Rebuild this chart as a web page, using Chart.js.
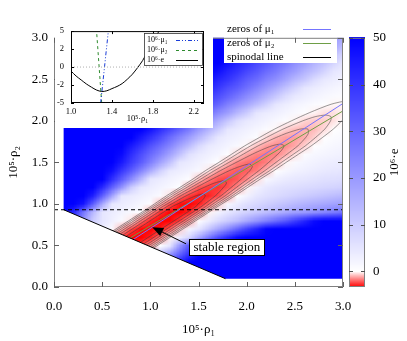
<!DOCTYPE html>
<html><head><meta charset="utf-8">
<script src="https://cdn.jsdelivr.net/npm/chart.js@4.4.1/dist/chart.umd.min.js"></script>
<style>
html,body{margin:0;padding:0;background:#fff;overflow:hidden;}
#wrap{position:relative;width:407px;height:341px;}
#main{position:absolute;left:0;top:0;}
#inset{position:absolute;left:55px;top:19px;}
</style></head><body>
<div id="wrap"><canvas id="main" width="407" height="341"></canvas><canvas id="inset" width="158" height="109"></canvas></div>
<script>
// ---------- axis ticks ----------
const xTicks = [0, 0.5, 1, 1.5, 2, 2.5, 3];
const yTicks = [0, 0.5, 1, 1.5, 2, 2.5, 3];
const cbTicks = [0, 10, 20, 30, 40, 50];
const cbMin = -3.33, cbMax = 50;

// ---------- heat map grid (10^6 e), rows = rho2, cols = rho1 ----------
const gridX = [0.1,0.2,0.3,0.4,0.5,0.6,0.7,0.8,0.9,1.0,1.1,1.2,1.3,1.4,1.5,1.6,1.7,1.8,1.9,2.0,2.1,2.2,2.3,2.4,2.5,2.6,2.7,2.8,2.9,3.0];
const gridY = [0.1,0.2,0.3,0.4,0.5,0.6,0.7,0.8,0.9,1.0,1.1,1.2,1.3,1.4,1.5,1.6,1.7,1.8,1.9,2.0,2.1,2.2,2.3,2.4,2.5,2.6,2.7,2.8,2.9,3.0];
const eGrid = [
[60,60,60,60,60,60,60,60,60,60,60,60,60,60,60,60,60,60,60,60,60,60,60,60,60,60,60,60,60,60],
[60,60,60,60,60,60,60,60,60,60,60,60,60,60,60,60,60,60,60,60,60,60,60,60,60,60,60,60,60,60],
[15,15,15,15,15,15,15,15,18,22,27,35,42,52,60,60,60,60,60,60,60,60,60,60,60,60,60,60,60,60],
[0,0,0,0,0,0,0,2,5,8,12,20,30,40,50,56,60,60,60,60,60,60,60,60,60,60,60,60,60,60],
[10,5,2,-0.2,-1.9,-2.9,-3.4,-3.3,-2.6,-1.4,0.4,5,20,33,47,60,60,60,60,60,60,60,60,60,60,60,60,60,60,60],
[12,7,4,2,0.2,-1.5,-2.7,-3.3,-3.4,-2.9,-1.8,-0.2,3.5,8,17,26,35,42,48,54,60,60,60,60,60,60,60,60,60,60],
[35,25,15,8,3.7,0.9,-1.05,-2.4,-3.2,-3.4,-3.1,-2.2,-0.7,1.9,5,11,17,23,30,37,43,49,54,58,60,60,60,60,60,60],
[55,40,22,10,5,3,1.2,-0.35,-1.9,-2.9,-3.4,-3.3,-2.6,-1.4,0.6,3.5,7,10,13,17,21,25,29,33,38,43,48,52,56,60],
[58,42,27,14,5,3.5,2.3,1.2,0.1,-1.5,-2.7,-3.3,-3.4,-2.9,-1.8,-0.2,2.5,5,7,9,11,13,15,17,19,20,22,24,26,28],
[60,60,46,32,17,4.8,3.8,2.7,1.6,0.5,-1.0,-2.3,-3.1,-3.3,-3.0,-2.1,-0.7,1.5,4,6,7.5,9,10.5,12,13.5,15,16,17,18,19],
[60,60,60,44,31,18,5,4,3,2,1,-0.4,-1.8,-2.6,-3.0,-2.9,-2.4,-1.3,0.2,2.5,5,6,7,8,9,10,11,12,13,14],
[60,60,60,50,42,31,21,10,4.7,3.5,2.4,1.3,0.2,-1.2,-2.2,-2.6,-2.7,-2.3,-1.5,-0.2,2.5,4.5,5.5,6,6.5,7,7.5,8,8.5,9],
[60,60,60,60,50,41,32,23,14,5,3.8,2.6,1.5,0.5,-0.8,-1.7,-2.3,-2.45,-2.2,-1.6,-0.5,1.5,3,4,4.5,5,5.5,6,6.3,6.6],
[60,60,60,60,60,47,39,32,24,16,9,4.3,3.3,2.3,1.3,-0.3,-1.3,-1.9,-2.2,-2.1,-1.7,-0.9,0.2,1.5,2.5,3.2,3.8,4.3,4.7,5],
[60,60,60,60,60,51,45,38,32,25,18,12,5,4,2.8,1.6,0.2,-0.9,-1.6,-1.9,-2.0,-1.7,-1.1,-0.15,1.2,2,2.6,3.1,3.5,3.8],
[60,60,60,60,60,60,48,41,35,29,24,18,12,6,4.1,3.0,1.9,0.6,-0.5,-1.2,-1.6,-1.75,-1.6,-1.1,-0.4,0.8,1.5,2.0,2.4,2.7],
[60,60,60,60,60,60,50,45,40,34,29,24,18,13,7.5,4.4,3.3,2.2,1.1,-0.1,-0.8,-1.3,-1.5,-1.5,-1.15,-0.6,0.25,1.0,1.5,1.9],
[60,60,60,60,60,60,60,50,45,40,35,29,24,19,14,9,4.7,3.4,2.5,1.6,0.5,-0.5,-1.0,-1.25,-1.25,-1.05,-0.6,0.1,0.7,1.2],
[60,60,60,60,60,60,60,60,50,46,41,36,31,26,20,15,10,5,3.7,2.7,1.7,0.8,-0.1,-0.6,-0.9,-1.0,-0.9,-0.5,0.05,0.6],
[60,60,60,60,60,60,60,60,60,50,45,40,35,31,26,21,16,11,6.5,4.3,3.3,2.3,1.4,0.5,-0.15,-0.55,-0.7,-0.65,-0.4,0.05],
[60,60,60,60,60,60,60,60,60,60,50,46,41,37,32,28,23,19,14,10,5,3.8,2.9,2.0,1.2,0.4,-0.15,-0.4,-0.4,-0.2],
[60,60,60,60,60,60,60,60,60,60,60,50,46,42,38,34,30,25,21,17,13,9,5,3.5,2.4,1.5,0.8,0.3,-0.1,-0.13],
[60,60,60,60,60,60,60,60,60,60,60,60,50,46,42,38,35,31,27,23,19,15,11,7,4.5,3.3,2.3,1.5,0.9,0.5],
[60,60,60,60,60,60,60,60,60,60,60,60,60,50,46,43,39,35,32,28,24,20,16,12,8.5,5,3.8,2.8,2.0,1.4],
[60,60,60,60,60,60,60,60,60,60,60,60,60,60,50,47,43,40,36,32,29,25,22,18,14,11,7,4.6,3.5,2.6],
[60,60,60,60,60,60,60,60,60,60,60,60,60,60,60,50,47,43,40,36,33,29,26,22,19,15,12,8.5,5,4],
[60,60,60,60,60,60,60,60,60,60,60,60,60,60,60,60,50,47,43,40,36,33,29,26,22,19,15,12,8.5,5],
[60,60,60,60,60,60,60,60,60,60,60,60,60,60,60,60,60,50,47,43,40,36,33,29,26,22,19,15,12,8.5],
[60,60,60,60,60,60,60,60,60,60,60,60,60,60,60,60,60,60,60,48,45,41,38,34,31,27,24,20,17,13],
[60,60,60,60,60,60,60,60,60,60,60,60,60,60,60,60,60,60,60,60,48,45,41,38,34,31,27,24,20,17]
];

// ---------- contour lines of 10^6 e (levels -3 ... 0) ----------
const contourM30 = [[0.47,0.4],[0.87,0.7],[1.23,0.97],[1.285,1.0],[1.375,1.05],[1.48,1.1],[1.55,1.12],[1.57,1.1],[1.545,1.05],[1.495,1.0],[1.475,0.97],[1.115,0.7],[0.715,0.4]];
const contourM25 = [[0.414,0.4],[0.814,0.7],[1.174,0.97],[1.221,1.0],[1.375,1.1],[1.56,1.2],[1.662,1.25],[1.77,1.28],[1.79,1.25],[1.76,1.2],[1.677,1.1],[1.565,1.0],[1.532,0.97],[1.172,0.7],[0.772,0.4]];
const contourM20 = [[0.369,0.4],[0.769,0.7],[1.129,0.97],[1.174,1.0],[1.317,1.1],[1.479,1.2],[1.643,1.3],[1.819,1.4],[1.928,1.45],[2.03,1.48],[2.058,1.45],[2.033,1.4],[1.943,1.3],[1.841,1.2],[1.735,1.1],[1.612,1.0],[1.577,0.97],[1.217,0.7],[0.817,0.4]];
const contourM15 = [[0.333,0.4],[0.733,0.7],[1.093,0.97],[1.135,1.0],[1.272,1.1],[1.425,1.2],[1.575,1.3],[1.726,1.4],[1.892,1.5],[2.062,1.6],[2.155,1.65],[2.264,1.7],[2.35,1.72],[2.388,1.7],[2.365,1.65],[2.324,1.6],[2.228,1.5],[2.126,1.4],[2.011,1.3],[1.895,1.2],[1.78,1.1],[1.651,1.0],[1.613,0.97],[1.253,0.7],[0.853,0.4]];
const contourM10 = [[0.3,0.4],[0.7,0.7],[1.06,0.97],[1.101,1.0],[1.234,1.1],[1.38,1.2],[1.524,1.3],[1.664,1.4],[1.816,1.5],[1.966,1.6],[2.12,1.7],[2.307,1.8],[2.412,1.85],[2.55,1.9],[2.6,1.905],[2.636,1.9],[2.64,1.85],[2.613,1.8],[2.532,1.7],[2.42,1.6],[2.304,1.5],[2.188,1.4],[2.062,1.3],[1.94,1.2],[1.818,1.1],[1.685,1.0],[1.646,0.97],[1.286,0.7],[0.886,0.4]];
const contourM05 = [[0.271,0.4],[0.671,0.7],[1.031,0.97],[1.071,1.0],[1.2,1.1],[1.342,1.2],[1.481,1.3],[1.614,1.4],[1.759,1.5],[1.899,1.6],[2.042,1.7],[2.205,1.8],[2.376,1.9],[2.581,2.0],[2.71,2.05],[2.82,2.07],[2.876,2.05],[2.871,2.0],[2.81,1.9],[2.715,1.8],[2.61,1.7],[2.487,1.6],[2.361,1.5],[2.238,1.4],[2.105,1.3],[1.978,1.2],[1.852,1.1],[1.715,1.0],[1.675,0.97],[1.315,0.7],[0.915,0.4]];
const contour00 = [[0.245,0.4],[0.645,0.7],[1.005,0.97],[1.043,1.0],[1.17,1.1],[1.308,1.2],[1.443,1.3],[1.571,1.4],[1.711,1.5],[1.846,1.6],[1.981,1.7],[2.133,1.8],[2.288,1.9],[2.464,2.0],[2.655,2.1],[2.876,2.2],[3.05,2.24],[3.11,2.2],[3.065,2.1],[2.988,2.0],[2.898,1.9],[2.787,1.8],[2.671,1.7],[2.54,1.6],[2.409,1.5],[2.281,1.4],[2.143,1.3],[2.012,1.2],[1.882,1.1],[1.743,1.0],[1.701,0.97],[1.341,0.7],[0.941,0.4]];
const contours = [contourM30, contourM25, contourM20, contourM15, contourM10, contourM05, contour00];

// ---------- lines ----------
const mu1Zero = [[0.82,0.57],[3.0,2.21]];
const mu2Zero = [[0.79,0.59],[3.0,2.12]];
const spinodal = [[0.1,0.93],[1.78,0.1]];
const dashedLevel = [[0,0.93],[3,0.93]];
const dataRegion = [[0.1,3.0],[3.0,3.0],[3.0,0.1],[1.78,0.1],[0.1,0.93]];
const legendLabels = ['zeros of \u03bc\u2081','zeros of \u03bc\u2082','spinodal line'];
const annotText = 'stable region';
const annotPos = [1.795, 0.485];
const arrowTail = [1.37, 0.52];
const arrowTip = [1.02, 0.72];

// ---------- inset data ----------
const insetRho = [1.0,1.05,1.1,1.15,1.2,1.25,1.3,1.35,1.4,1.45,1.5,1.55,1.6,1.65,1.7,1.75,1.8,1.86];
const insetE   = [-0.55,-1.25,-1.8,-2.35,-2.8,-3.2,-3.4,-3.3,-3.0,-2.7,-2.3,-1.7,-1.0,-0.1,0.9,2.2,3.5,5.0];
const insetMu1 = [[1.29,-5],[1.365,5]];
const insetMu2 = [[1.30,-5],[1.25,5]];
const insetXTicks = [1.0,1.4,1.8,2.2];
const insetYTicks = [-5,-2.5,0,2.5,5];
const insetYTickLabels = ['-5','-2','0','2','5'];
const insetLegendLabels = ['10\u2076\u00b7\u03bc\u2081','10\u2076\u00b7\u03bc\u2082','10\u2076\u00b7e'];

const SERIF = '"Liberation Serif","DejaVu Serif",serif';
Chart.defaults.font.family = SERIF;

function colorOf(v){
  if (v < 0){ const t = Math.min(1, -v / (-cbMin)); const g = Math.round(255*(1-t)); return [255,g,g]; }
  const t = Math.min(1, v / cbMax); const g = Math.round(255*(1-t)); return [g,g,255];
}
const pts = a => a.map(p => ({x:p[0], y:p[1]}));

function regionPath(ctx, xs, ys){
  ctx.beginPath();
  dataRegion.forEach((p,k)=>{ const px=xs.getPixelForValue(p[0]), py=ys.getPixelForValue(p[1]); if(k) ctx.lineTo(px,py); else ctx.moveTo(px,py); });
  ctx.closePath();
}

const heatPlugin = {
  id: 'heat',
  beforeDatasetsDraw(chart){
    const {ctx} = chart; const xs = chart.scales.x, ys = chart.scales.y;
    const nx = gridX.length, ny = gridY.length;
    const off = document.createElement('canvas'); off.width = nx; off.height = ny;
    const octx = off.getContext('2d');
    const img = octx.createImageData(nx, ny);
    for (let j=0;j<ny;j++){
      const row = eGrid[ny-1-j];
      for (let i=0;i<nx;i++){
        const c = colorOf(row[i]); const k = (j*nx+i)*4;
        img.data[k]=c[0]; img.data[k+1]=c[1]; img.data[k+2]=c[2]; img.data[k+3]=255;
      }
    }
    octx.putImageData(img,0,0);
    const hx = (gridX[1]-gridX[0])/2, hy = (gridY[1]-gridY[0])/2;
    const l = xs.getPixelForValue(gridX[0]-hx), r = xs.getPixelForValue(gridX[nx-1]+hx);
    const t = ys.getPixelForValue(gridY[ny-1]+hy), b = ys.getPixelForValue(gridY[0]-hy);
    ctx.save();
    regionPath(ctx, xs, ys); ctx.clip();
    ctx.imageSmoothingEnabled = true;
    ctx.drawImage(off, l, t, r-l, b-t);
    ctx.restore();
  },
  beforeDatasetDraw(chart, args){
    const ds = chart.data.datasets[args.index];
    if (ds.clipSpin){ const ctx=chart.ctx; ctx.save(); regionPath(ctx, chart.scales.x, chart.scales.y); ctx.clip(); }
  },
  afterDatasetDraw(chart, args){
    const ds = chart.data.datasets[args.index];
    if (ds.clipSpin){ chart.ctx.restore(); }
  },
  afterDatasetsDraw(chart){
    const {ctx, chartArea:ca} = chart; const xs = chart.scales.x, ys = chart.scales.y, cb = chart.scales.cb;
    // arrow
    const x1 = xs.getPixelForValue(arrowTail[0]), y1 = ys.getPixelForValue(arrowTail[1]);
    const x2 = xs.getPixelForValue(arrowTip[0]), y2 = ys.getPixelForValue(arrowTip[1]);
    const ang = Math.atan2(y2-y1, x2-x1), L = 11, W = 4.5;
    const bx = x2 - L*Math.cos(ang), by = y2 - L*Math.sin(ang);
    ctx.save();
    ctx.strokeStyle='#000'; ctx.lineWidth=1;
    ctx.beginPath(); ctx.moveTo(x1,y1); ctx.lineTo(bx,by); ctx.stroke();
    ctx.beginPath(); ctx.moveTo(x2,y2); ctx.lineTo(bx + W*Math.sin(ang), by - W*Math.cos(ang)); ctx.lineTo(bx - W*Math.sin(ang), by + W*Math.cos(ang)); ctx.closePath();
    ctx.fillStyle='#000'; ctx.fill();
    // annotation box
    ctx.font = '13px ' + SERIF;
    const cx = xs.getPixelForValue(annotPos[0]), cy = ys.getPixelForValue(annotPos[1]);
    const tw = ctx.measureText(annotText).width;
    const bw = Math.round(tw + 8), bh = 16;
    const bl = Math.round(cx - bw/2) + 0.5, bt = Math.round(cy - bh/2) + 0.5;
    ctx.fillStyle='#fff'; ctx.fillRect(bl, bt, bw, bh);
    ctx.strokeStyle='#000'; ctx.lineWidth=1; ctx.strokeRect(bl, bt, bw, bh);
    ctx.fillStyle='#000'; ctx.textAlign='center'; ctx.textBaseline='middle';
    ctx.fillText(annotText, cx, cy+1);
    // legend
    ctx.fillStyle='#fff'; ctx.fillRect(224, 19, 113, 44);
    ctx.font = '11px ' + SERIF; ctx.textAlign='left'; ctx.textBaseline='middle';
    const legColors = ['#7474ff','#6e9e46','#000'];
    legendLabels.forEach((lab,k)=>{
      const yy = 29 + k*14;
      ctx.fillStyle='#000'; ctx.fillText(lab, 227, yy);
      ctx.strokeStyle = legColors[k]; ctx.lineWidth = 1;
      ctx.beginPath(); ctx.moveTo(303, yy+0.5); ctx.lineTo(331, yy+0.5); ctx.stroke();
    });
    // frame
    ctx.strokeStyle='#808080'; ctx.lineWidth=1;
    ctx.strokeRect(ca.left+0.5, ca.top+0.5, ca.right-ca.left-1, ca.bottom-ca.top-1);
    // ticks (inward)
    ctx.strokeStyle='#606060';
    ctx.beginPath();
    xTicks.forEach(v=>{ const px = Math.round(xs.getPixelForValue(v))+0.5; ctx.moveTo(px, ca.bottom); ctx.lineTo(px, ca.bottom-5); ctx.moveTo(px, ca.top); ctx.lineTo(px, ca.top+5); });
    yTicks.forEach(v=>{ const py = Math.round(ys.getPixelForValue(v))+0.5; ctx.moveTo(ca.left, py); ctx.lineTo(ca.left+5, py); ctx.moveTo(ca.right, py); ctx.lineTo(ca.right-5, py); });
    ctx.stroke();
    // colour bar
    const cbL = 349, cbR = 365;
    for (let py = Math.floor(ca.top); py < ca.bottom; py++){
      const v = cb.getValueForPixel(py+0.5); const c = colorOf(v);
      ctx.fillStyle = 'rgb('+c[0]+','+c[1]+','+c[2]+')'; ctx.fillRect(cbL, py, cbR-cbL, 1);
    }
    ctx.strokeStyle='#808080'; ctx.strokeRect(cbL+0.5, ca.top+0.5, cbR-cbL-1, ca.bottom-ca.top-1);
    ctx.strokeStyle='#505050'; ctx.beginPath();
    cbTicks.forEach(v=>{ const py = Math.round(cb.getPixelForValue(v))+0.5; ctx.moveTo(cbL, py); ctx.lineTo(cbL+4, py); ctx.moveTo(cbR, py); ctx.lineTo(cbR-4, py); });
    ctx.stroke();
    // axis titles
    ctx.fillStyle='#000'; ctx.font='13px ' + SERIF; ctx.textAlign='center'; ctx.textBaseline='middle';
    ctx.fillText('10\u2075\u00b7\u03c1\u2081', (ca.left+ca.right)/2, 330);
    ctx.save(); ctx.translate(14, (ca.top+ca.bottom)/2); ctx.rotate(-Math.PI/2); ctx.fillText('10\u2075\u00b7\u03c1\u2082', 0, 0); ctx.restore();
    ctx.save(); ctx.translate(395, (ca.top+ca.bottom)/2); ctx.rotate(-Math.PI/2); ctx.fillText('10\u2076\u00b7e', 0, 0); ctx.restore();
    ctx.restore();
  }
};

const mainDatasets = [
  {data: pts(spinodal), showLine:true, borderColor:'#000', borderWidth:1, pointRadius:0},
  {data: pts(dashedLevel), showLine:true, borderColor:'#000', borderWidth:1, borderDash:[4,3], pointRadius:0},
  {data: pts(mu1Zero), showLine:true, borderColor:'#7474ff', borderWidth:1, pointRadius:0},
  {data: pts(mu2Zero), showLine:true, borderColor:'#6e9e46', borderWidth:1, pointRadius:0},
].concat(contours.map(c => ({data: pts(c), showLine:true, borderColor:'rgba(60,60,60,0.75)', borderWidth:0.7, pointRadius:0, tension:0.25, clipSpin:true})));

const tickFont = {family: SERIF, size: 13};
new Chart(document.getElementById('main'), {
  type: 'scatter',
  data: {datasets: mainDatasets},
  options: {
    responsive:false, animation:false, devicePixelRatio:1,
    layout:{padding:{top:15, left:0, right:0, bottom:0}},
    plugins:{legend:{display:false}, tooltip:{enabled:false}},
    scales:{
      x:{type:'linear', position:'bottom', min:0, max:3,
         afterBuildTicks: s => { s.ticks = xTicks.map(v=>({value:v})); },
         ticks:{font:tickFont, color:'#000', padding:12, maxRotation:0, autoSkip:false, callback: v => Number(v).toFixed(1)},
         grid:{display:false, drawTicks:false}, border:{display:false},
         afterFit: s => { s.height = 54; }},
      y:{type:'linear', position:'left', min:0, max:3,
         afterBuildTicks: s => { s.ticks = yTicks.map(v=>({value:v})); },
         ticks:{font:tickFont, color:'#000', padding:6, autoSkip:false, callback: v => Number(v).toFixed(1)},
         grid:{display:false, drawTicks:false}, border:{display:false},
         afterFit: s => { s.width = 54; }},
      cb:{type:'linear', position:'right', min:cbMin, max:cbMax,
         afterBuildTicks: s => { s.ticks = cbTicks.map(v=>({value:v})); },
         ticks:{font:tickFont, color:'#000', padding:30, autoSkip:false, callback: v => String(v)},
         grid:{display:false, drawTicks:false}, border:{display:false},
         afterFit: s => { s.width = 64; }}
    }
  },
  plugins:[heatPlugin]
});

// ---------- inset ----------
const insetFont = {family: SERIF, size: 8.5};
const insetPlugin = {
  id:'insetDeco',
  beforeDraw(chart){ const ctx=chart.ctx; ctx.save(); ctx.fillStyle='#fff'; ctx.fillRect(0,0,chart.width,chart.height); ctx.restore(); },
  afterDatasetsDraw(chart){
    const {ctx, chartArea:ca} = chart; const xs=chart.scales.x, ys=chart.scales.y;
    ctx.save();
    ctx.strokeStyle='#000'; ctx.lineWidth=1;
    ctx.strokeRect(ca.left+0.5, ca.top+0.5, ca.right-ca.left-1, ca.bottom-ca.top-1);
    ctx.beginPath();
    insetXTicks.forEach(v=>{ const px=Math.round(xs.getPixelForValue(v))+0.5; ctx.moveTo(px,ca.bottom); ctx.lineTo(px,ca.bottom-3); ctx.moveTo(px,ca.top); ctx.lineTo(px,ca.top+3); });
    insetYTicks.forEach(v=>{ const py=Math.round(ys.getPixelForValue(v))+0.5; ctx.moveTo(ca.left,py); ctx.lineTo(ca.left+3,py); ctx.moveTo(ca.right,py); ctx.lineTo(ca.right-3,py); });
    ctx.stroke();
    // legend
    const lx=89.5, ly=14.5, lw=58, lh=32;
    ctx.fillStyle='#fff'; ctx.fillRect(lx,ly,lw,lh);
    ctx.strokeStyle='#333'; ctx.lineWidth=0.8; ctx.strokeRect(lx,ly,lw,lh);
    ctx.font='8px '+SERIF; ctx.textAlign='left'; ctx.textBaseline='middle';
    const st = [{c:'#1a3cd8', d:[4,2,1,2,1,2]}, {c:'#2e8b2e', d:[3,3]}, {c:'#000', d:[]}];
    insetLegendLabels.forEach((lab,k)=>{
      const yy = 21 + k*10;
      ctx.fillStyle='#000'; ctx.fillText(lab, 92, yy);
      ctx.strokeStyle=st[k].c; ctx.lineWidth=1; ctx.setLineDash(st[k].d);
      ctx.beginPath(); ctx.moveTo(121, yy+0.5); ctx.lineTo(143, yy+0.5); ctx.stroke();
    });
    ctx.setLineDash([]);
    ctx.fillStyle='#000'; ctx.font='8.5px '+SERIF; ctx.textAlign='center'; ctx.textBaseline='middle';
    ctx.fillText('10\u2075\u00b7\u03c1\u2081', (ca.left+ca.right)/2, 100);
    ctx.restore();
  }
};
new Chart(document.getElementById('inset'), {
  type:'scatter',
  data:{datasets:[
    {data:[{x:1.0,y:0},{x:2.3,y:0}], showLine:true, borderColor:'#b0b0b0', borderWidth:1, borderDash:[1,2], pointRadius:0},
    {data: pts(insetMu1), showLine:true, borderColor:'#1a3cd8', borderWidth:1, borderDash:[4,2,1,2,1,2], pointRadius:0},
    {data: pts(insetMu2), showLine:true, borderColor:'#2e8b2e', borderWidth:1, borderDash:[3,3], pointRadius:0},
    {data: insetRho.map((r,i)=>({x:r, y:insetE[i]})), showLine:true, borderColor:'#000', borderWidth:1, pointRadius:0, tension:0.3}
  ]},
  options:{
    responsive:false, animation:false, devicePixelRatio:1,
    layout:{padding:{top:6, right:9, left:0, bottom:0}},
    plugins:{legend:{display:false}, tooltip:{enabled:false}},
    scales:{
      x:{type:'linear', min:1.0, max:2.3,
         afterBuildTicks: s => { s.ticks = insetXTicks.map(v=>({value:v})); },
         ticks:{font:insetFont, color:'#000', padding:4, maxRotation:0, autoSkip:false, callback: v => Number(v).toFixed(1)},
         grid:{display:false, drawTicks:false}, border:{display:false},
         afterFit: s => { s.height = 25; }},
      y:{type:'linear', min:-5, max:5,
         afterBuildTicks: s => { s.ticks = insetYTicks.map(v=>({value:v})); },
         ticks:{font:insetFont, color:'#000', padding:7, autoSkip:false, callback: (v,i) => insetYTickLabels[i]},
         grid:{display:false, drawTicks:false}, border:{display:false},
         afterFit: s => { s.width = 16; }}
    }
  },
  plugins:[insetPlugin]
});
</script>
</body></html>
